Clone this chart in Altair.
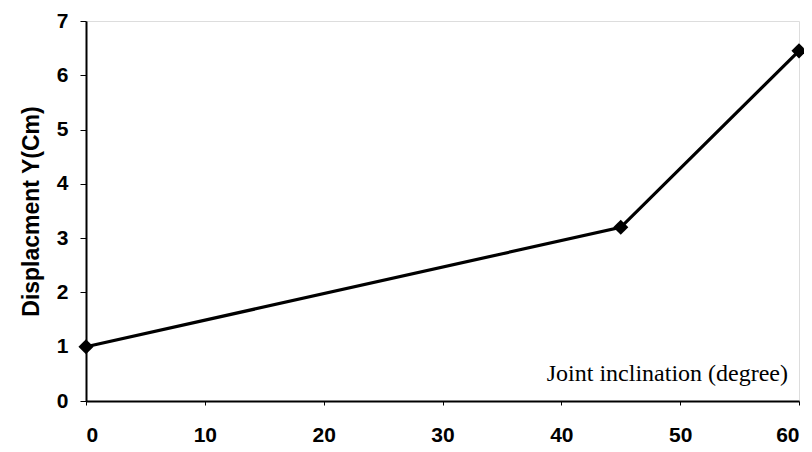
import altair as alt
import pandas as pd

inclination = [0, 45, 60]
displacement = [1.0, 3.2, 6.45]
x_ticks = [0, 10, 20, 30, 40, 50, 60]
y_ticks = [0, 1, 2, 3, 4, 5, 6, 7]

df = pd.DataFrame({"x": inclination, "y": displacement})

xenc = alt.X("x:Q", scale=alt.Scale(domain=[0, 60], nice=False),
             axis=alt.Axis(values=x_ticks, format="d", title=None, grid=False,
                           labelFont="Liberation Sans", labelFontWeight="bold", labelFontSize=21,
                           labelColor="black", tickColor="black", tickSize=4, labelPadding=19,
                           domainColor="black", domainWidth=2))
yenc = alt.Y("y:Q", scale=alt.Scale(domain=[0, 7], nice=False),
             axis=alt.Axis(values=y_ticks, format="d", title="Displacment Y(Cm)", grid=False,
                           labelFont="Liberation Sans", labelFontWeight="bold", labelFontSize=21,
                           labelColor="black", tickColor="black", tickSize=6, labelPadding=12,
                           titleFont="Liberation Sans", titleFontWeight="bold", titleFontSize=23,
                           titleColor="black", titlePadding=13,
                           domainColor="black", domainWidth=2))

line = alt.Chart(df).mark_line(color="black", strokeWidth=3.2).encode(x=xenc, y=yenc)
pts = alt.Chart(df).mark_point(shape="diamond", filled=True, color="black", size=230, opacity=1).encode(x="x:Q", y="y:Q")
label = alt.Chart(pd.DataFrame({"t": ["Joint inclination (degree)"]})).mark_text(
    font="Liberation Serif", fontSize=24, align="right", baseline="alphabetic", color="black"
).encode(x=alt.value(702), y=alt.value(360), text="t:N")

chart = (line + pts + label).properties(
    width=713, height=380,
    autosize=alt.AutoSizeParams(type="none"),
    padding={"left": 78, "top": 13, "right": 5, "bottom": 50},
).configure_view(stroke="black", strokeWidth=2).configure(background="white")

chart.save("out.html", embed_options={"renderer": "svg", "actions": False})
